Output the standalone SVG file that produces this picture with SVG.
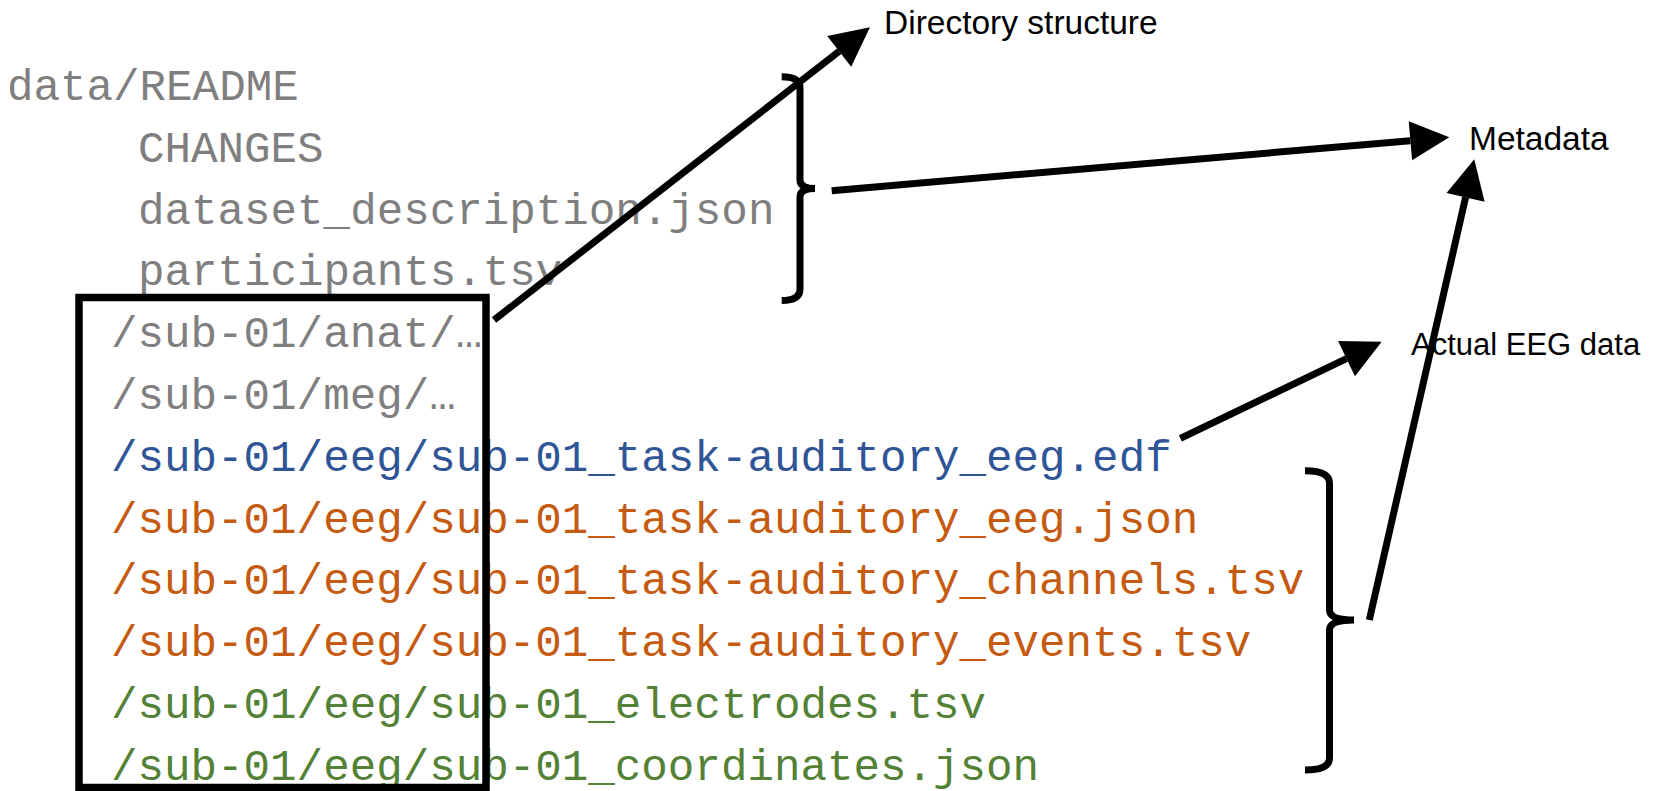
<svg xmlns="http://www.w3.org/2000/svg" width="1660" height="791" viewBox="0 0 1660 791">
<style>
.mono{font-family:"Liberation Mono","DejaVu Sans Mono",monospace;font-size:44.2px}
.gray{fill:#7F7F7F}
.blue{fill:#2F5597}
.orange{fill:#C55A11}
.green{fill:#538135}
.lbl{font-family:"Liberation Sans",Arial,sans-serif;font-size:33.5px;fill:#000}
.conn{stroke:#000;stroke-width:7;fill:none;marker-end:url(#ah)}
.brace{stroke:#000;stroke-width:7;fill:none}
</style>
<defs>
<marker id="ah" markerUnits="userSpaceOnUse" markerWidth="40" markerHeight="40" refX="0" refY="19.5" orient="auto" overflow="visible">
<path d="M0,0 L39,19.5 L0,39 Z" fill="#000"/>
</marker>
</defs>
<rect width="1660" height="791" fill="#fff"/>
<g id="files">
<text class="mono gray" x="7" y="100">data/README</text>
<text class="mono gray" x="138" y="161.8">CHANGES</text>
<text class="mono gray" x="138" y="223.6">dataset_description.json</text>
<text class="mono gray" x="138" y="285.4">participants.tsv</text>
<text class="mono gray" x="111" y="347.2">/sub-01/anat/…</text>
<text class="mono gray" x="111" y="409">/sub-01/meg/…</text>
<text class="mono blue" x="111" y="470.8">/sub-01/eeg/sub-01_task-auditory_eeg.edf</text>
<text class="mono orange" x="111" y="532.6">/sub-01/eeg/sub-01_task-auditory_eeg.json</text>
<text class="mono orange" x="111" y="594.4">/sub-01/eeg/sub-01_task-auditory_channels.tsv</text>
<text class="mono orange" x="111" y="656.2">/sub-01/eeg/sub-01_task-auditory_events.tsv</text>
<text class="mono green" x="111" y="718">/sub-01/eeg/sub-01_electrodes.tsv</text>
<text class="mono green" x="111" y="779.8">/sub-01/eeg/sub-01_coordinates.json</text>
</g>
<g id="subject-box">
<rect x="79" y="297.5" width="407" height="490" fill="none" stroke="#000" stroke-width="7.5"/>
</g>
<g id="brace-top">
<path class="brace" d="M781.7,76.7 Q800,76.7 800,88 L800,180 Q800,188.5 815,188.5 Q800,188.5 800,197 L800,289 Q800,300.5 781.7,300.5"/>
</g>
<g id="brace-bottom">
<path class="brace" d="M1305,470.7 Q1329.5,470.7 1329.5,483 L1329.5,610 Q1329.5,620 1354,620 Q1329.5,620 1329.5,630 L1329.5,758 Q1329.5,770 1305,770"/>
</g>
<g id="label-directory">
<text class="lbl" x="884" y="34.3">Directory structure</text>
</g>
<g id="label-metadata">
<text class="lbl" x="1469" y="150">Metadata</text>
</g>
<g id="label-eeg">
<text class="lbl" x="1411" y="355" style="font-size:31px">Actual EEG data</text>
</g>
<g id="connectors">
<line class="conn" x1="494" y1="320" x2="839.2" y2="51.3"/>
<line class="conn" x1="831.7" y1="190.7" x2="1410.4" y2="140.7"/>
<line class="conn" x1="1369.3" y1="620" x2="1465.6" y2="197.3"/>
<line class="conn" x1="1180.4" y1="438.3" x2="1346.5" y2="358.6"/>
</g>
</svg>
